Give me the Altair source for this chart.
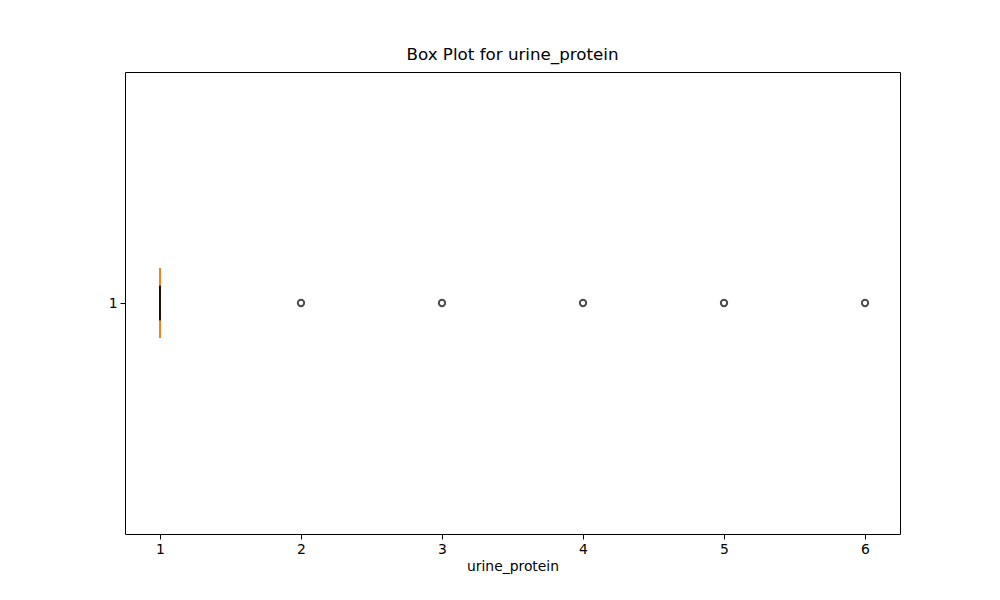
import pandas as pd
import altair as alt

outliers = [2, 3, 4, 5, 6]
median = [1]
q1 = [1]
q3 = [1]
whisker_lo = [1]
whisker_hi = [1]

font = 'DejaVu Sans'
xs = alt.Scale(domain=[0.752, 6.248], nice=False, zero=False)
ys = alt.Scale(domain=[0.5, 1.5], nice=False, zero=False)

out = pd.DataFrame({'v': outliers, 'pos': 1})
stats = pd.DataFrame({'med': median, 'q1': q1, 'q3': q3,
                      'lo': whisker_lo, 'hi': whisker_hi,
                      'a': [0.925], 'b': [1.075], 'c': [0.9625], 'd': [1.0375]})

xax = alt.Axis(values=[1, 2, 3, 4, 5, 6], grid=False, title='urine_protein', format='d',
               tickColor='black', domain=False, labelColor='black', titleColor='black',
               labelFont=font, titleFont=font, labelFontSize=13.9, titleFontSize=13.9,
               titleFontWeight='normal', tickSize=5, labelPadding=3)
yax = alt.Axis(values=[1], grid=False, title=None, format='d', tickColor='black',
               domain=False, labelColor='black', labelFont=font, labelFontSize=13.9,
               tickSize=5, labelPadding=3)

base = alt.Chart(stats)
box = base.mark_rect(fill='none', stroke='black', strokeWidth=1.3).encode(
    x=alt.X('q1:Q', scale=xs, axis=xax), x2='q3', y=alt.Y('a:Q', scale=ys, axis=yax), y2='b')
caps_lo = base.mark_rule(color='black', strokeWidth=1.3).encode(
    x=alt.X('lo:Q', scale=xs), y=alt.Y('c:Q', scale=ys), y2='d')
caps_hi = base.mark_rule(color='black', strokeWidth=1.3).encode(
    x=alt.X('hi:Q', scale=xs), y=alt.Y('c:Q', scale=ys), y2='d')
med = base.mark_rule(color='#ff7f0e', strokeWidth=2).encode(
    x=alt.X('med:Q', scale=xs), y=alt.Y('a:Q', scale=ys), y2='b')
pts = alt.Chart(out).mark_point(shape='circle', filled=False, color='black',
                                size=40, strokeWidth=2).encode(
    x=alt.X('v:Q', scale=xs), y=alt.Y('pos:Q', scale=ys))

chart = alt.layer(box, med, caps_lo, caps_hi, pts).properties(
    width=775, height=462,
    title=alt.TitleParams('Box Plot for urine_protein', font=font, fontSize=16.7,
                          fontWeight='normal', color='black', offset=8),
    autosize=alt.AutoSizeParams(type='none'),
    padding={'left': 117, 'top': 64, 'right': 92, 'bottom': 58},
    background='white'
).configure_view(stroke='black', strokeWidth=1)

chart.save("out.html", embed_options={"renderer": "svg", "actions": False})
